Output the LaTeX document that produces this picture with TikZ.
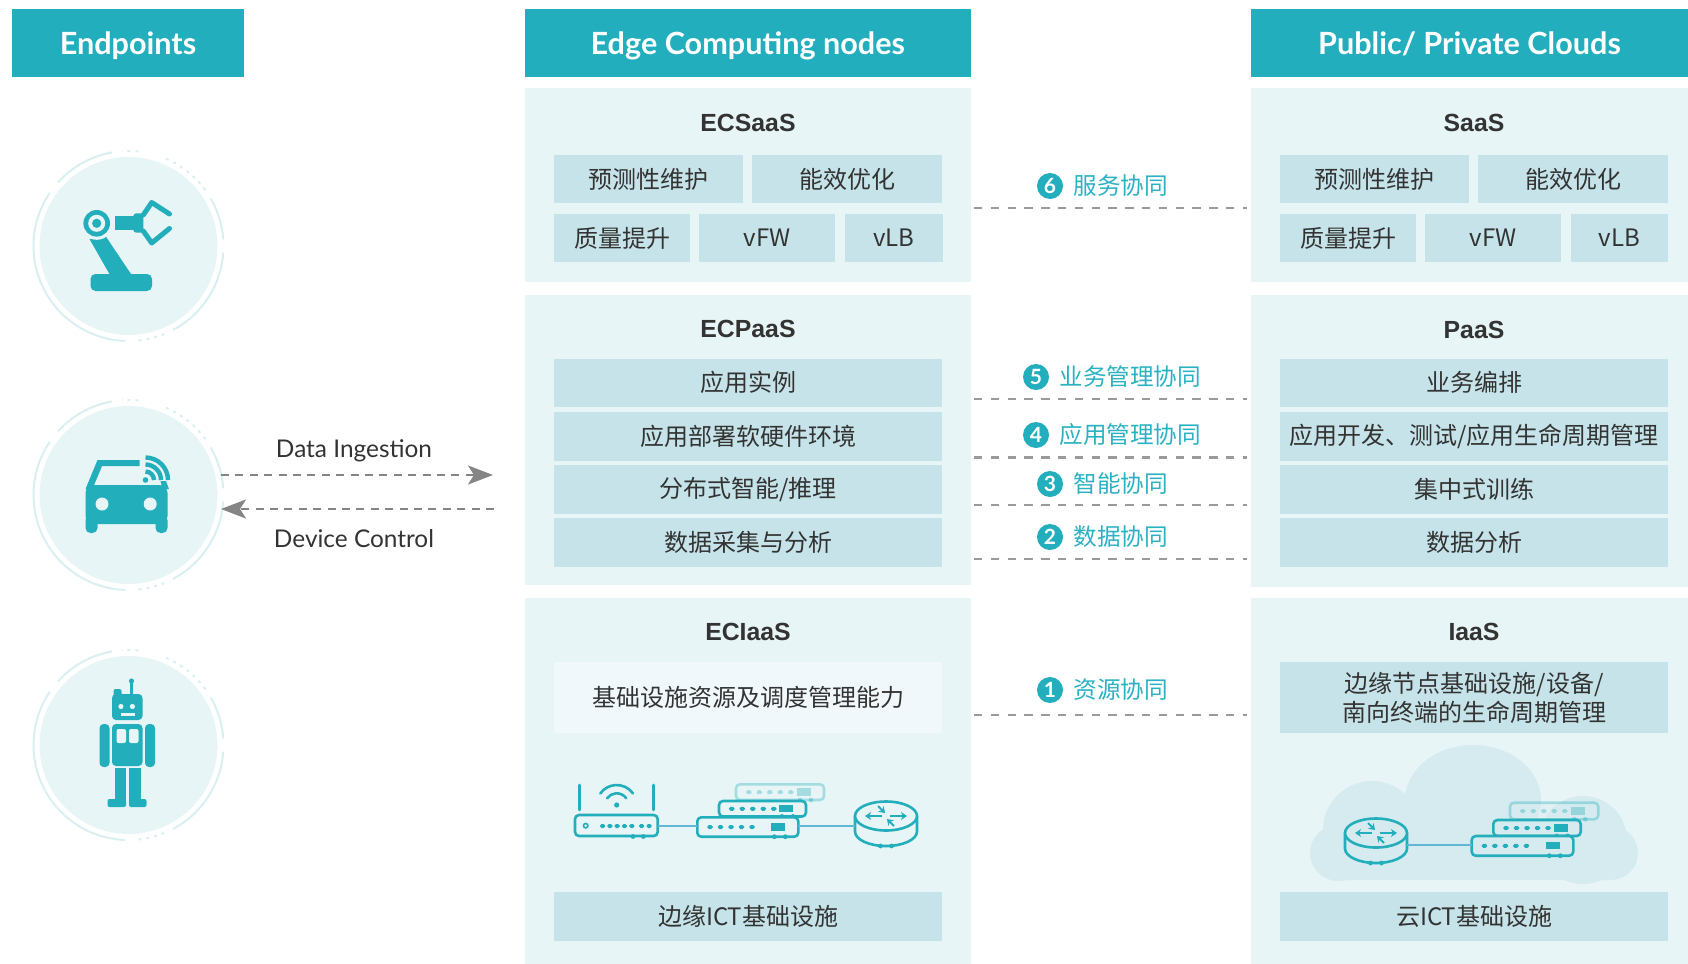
\documentclass[tikz,border=0pt]{standalone}
\usepackage{fontspec}
\setmainfont{Lato}
\newfontfamily\cjkfont{Noto Sans CJK SC}
\newfontfamily\titlefont{Liberation Sans}
\usetikzlibrary{arrows.meta}

\definecolor{tealc}{HTML}{22AEBD}
\definecolor{panelc}{HTML}{E8F5F6}
\definecolor{cellc}{HTML}{C5E3E8}
\definecolor{lightcell}{HTML}{F1F8FB}
\definecolor{txtc}{HTML}{333333}
\definecolor{labelc}{HTML}{2AB1C2}
\definecolor{dashc}{HTML}{9A9A9A}
\definecolor{arrowc}{HTML}{858585}
\definecolor{iconc}{HTML}{23AEBC}
\definecolor{circbg}{HTML}{E7F5F7}
\definecolor{ringc}{HTML}{D9EFF2}
\definecolor{cloudc}{HTML}{D6EBF0}
\definecolor{wirec}{HTML}{62B8D4}

% a rectangular node spanning two corners (corner units, y downwards)
\newcommand\boxat[7][]{\node[#1,minimum width={(#5-#3)*0.5pt},minimum height={(#6-#4)*0.5pt}]
  (#2) at ({(#3+#5)/2},{(#4+#6)/2}) {#7};}
\newcommand\cellbox[7][]{\boxat[cell,#1]{#2}{#3}{#4}{#5}{#6}{#7}}

% decorative broken ring around an endpoint disc
\newcommand\ringdeco[2]{%
  \begin{scope}[shift={(#1,#2)}]
    \draw[ring] (-100:95) arc[start angle=-100,end angle=-138,radius=95];
    \draw[ring] (-146:95) arc[start angle=-146,end angle=-268,radius=95];
    \draw[ring] (-298:95) arc[start angle=-298,end angle=-356,radius=95];
    \draw[ring] (-4:95) arc[start angle=-4,end angle=-30,radius=95];
    \draw[ring,dash pattern=on 1.5pt off 2.5pt] (-36:95) arc[start angle=-36,end angle=-68,radius=95];
    \draw[ring,dash pattern=on 1.5pt off 2.5pt] (-84:95) arc[start angle=-84,end angle=-94,radius=95];
    \draw[ring,dash pattern=on 1.5pt off 2.5pt] (-276:95) arc[start angle=-276,end angle=-292,radius=95];
  \end{scope}}

% network switch: corners and fill colour
\newcommand\swbox[5]{%
  \filldraw[devline,fill=#5,rounded corners=2pt] (#1,#2) rectangle (#3,#4);
  \foreach \k in {0,...,4}
    \fill[iconc,rounded corners=0.8pt] ({#1+10+\k*10.5},{(#2+#4)/2+2}) rectangle ++(5.5,-4);
  \fill[iconc] ({#3-27},{(#2+#4)/2-4}) rectangle ({#3-13},{(#2+#4)/2+3.5});
  \fill[iconc] ({#3-24},#4) circle (2.4);
  \fill[iconc] ({#3-13},#4) circle (2.4);}

% cylinder router: centre of top face and fill colour
\newcommand\cylrouter[3]{%
  \filldraw[devline,fill=#3] ({#1-31},#2) -- ({#1-31},{#2+15.5})
     arc[start angle=180,end angle=0,x radius=31,y radius=14.5] -- ({#1+31},#2);
  \filldraw[devline,fill=#3] (#1,#2) ellipse[x radius=31,y radius=14.5];
  \draw[iconc,line width=0.9pt,-{Stealth[length=3pt,width=4pt]}] ({#1-4},#2) -- ({#1-21},#2);
  \draw[iconc,line width=0.9pt,-{Stealth[length=3pt,width=4pt]}] ({#1+4},#2) -- ({#1+21},#2);
  \draw[iconc,line width=0.9pt,-{Stealth[length=3pt,width=4pt]}] ({#1-8},{#2-10}) -- ({#1-1},{#2-3});
  \draw[iconc,line width=0.9pt,-{Stealth[length=3pt,width=4pt]}] ({#1+8},{#2+10}) -- ({#1+1},{#2+3});
  \fill[iconc] ({#1-5.5},{#2+30}) circle (2.4);
  \fill[iconc] ({#1+5.5},{#2+30}) circle (2.4);}

\begin{document}
\begin{tikzpicture}[x=0.5pt,y=-0.5pt,
  hdr/.style={fill=tealc,text=white,inner sep=0pt,text height=11pt,text depth=0pt,
    font=\bfseries\fontsize{15.3}{18}\selectfont},
  panel/.style={fill=panelc,inner sep=0pt},
  cell/.style={fill=cellc,inner sep=0pt,text=txtc,align=center,
    font=\cjkfont\fontsize{12}{14.5}\selectfont},
  ptitle/.style={text=txtc,inner sep=0pt,font=\titlefont\bfseries\fontsize{12.4}{15}\selectfont},
  flow/.style={draw=dashc,line width=1.2pt,dash pattern=on 4.2pt off 4.2pt},
  numc/.style={circle,fill=tealc,text=white,inner sep=0pt,minimum size=13pt,
    font=\bfseries\fontsize{10.5}{12}\selectfont},
  coop/.style={text=labelc,anchor=west,inner sep=0pt,font=\cjkfont\fontsize{11.8}{14}\selectfont},
  io/.style={draw=arrowc,line width=1.15pt,dash pattern=on 4pt off 3.2pt,
    -{Stealth[length=12.5pt,width=9.5pt,inset=3pt]}},
  iolabel/.style={text=txtc,inner sep=0pt,font=\fontsize{12.2}{14}\selectfont},
  disc/.style={circle,fill=circbg,inner sep=0pt,minimum size=89pt},
  ring/.style={draw=ringc,line width=1pt},
  icon/.style={fill=iconc},
  devline/.style={draw=iconc,line width=1.3pt,line cap=round,line join=round},
  wire/.style={draw=wirec,line width=0.7pt}]

\useasboundingbox (0,0) rectangle (1688,964);

% ---------- column headers ----------
\boxat[hdr]{h-ep}{12}{9}{244}{77.3}{Endpoints}
\boxat[hdr]{h-edge}{525}{9}{970.7}{77.3}{Edge Computing nodes}
\boxat[hdr]{h-cloud}{1251}{9}{1688}{77.3}{Public/ Private Clouds}

% ---------- layer panels ----------
\boxat[panel]{ecsaas}{525}{88.3}{970.7}{282}{}
\boxat[panel]{ecpaas}{525}{295}{970.7}{585}{}
\boxat[panel]{eciaas}{525}{598}{970.7}{964}{}
\boxat[panel]{saas}{1251}{88.3}{1688}{282}{}
\boxat[panel]{paas}{1251}{295}{1688}{587}{}
\boxat[panel]{iaas}{1251}{598}{1688}{964}{}

\node[ptitle] (t-ecsaas) at (748,122.7) {ECSaaS};
\node[ptitle] (t-ecpaas) at (748,328.5) {ECPaaS};
\node[ptitle] (t-eciaas) at (748,632) {ECIaaS};
\node[ptitle] (t-saas) at (1474,122.7) {SaaS};
\node[ptitle] (t-paas) at (1474,329.5) {PaaS};
\node[ptitle] (t-iaas) at (1474,632) {IaaS};

% ---------- edge cells ----------
\cellbox{e-pm}{554.3}{155}{743.3}{203.3}{预测性维护}
\cellbox{e-ee}{752.3}{155}{941.7}{203.3}{能效优化}
\cellbox{e-qi}{554.3}{214}{690.3}{262.3}{质量提升}
\cellbox{e-fw}{699}{214}{835}{262.3}{vFW}
\cellbox{e-lb}{845}{214}{942.7}{262.3}{vLB}
\cellbox{e-inst}{554.3}{358.5}{942}{407}{应用实例}
\cellbox{e-env}{554.3}{412}{942}{461}{应用部署软硬件环境}
\cellbox{e-ai}{554.3}{465}{942}{513.5}{分布式智能/推理}
\cellbox{e-data}{554.3}{518}{942}{567}{数据采集与分析}
\cellbox[fill=lightcell]{e-res}{554.3}{662}{942}{733}{基础设施资源及调度管理能力}
\cellbox{e-ict}{554.3}{892}{942}{941}{边缘ICT基础设施}

% ---------- cloud cells ----------
\cellbox{c-pm}{1280.3}{155}{1469.3}{203.3}{预测性维护}
\cellbox{c-ee}{1478.3}{155}{1667.7}{203.3}{能效优化}
\cellbox{c-qi}{1280.3}{214}{1416.3}{262.3}{质量提升}
\cellbox{c-fw}{1425}{214}{1561}{262.3}{vFW}
\cellbox{c-lb}{1571}{214}{1668}{262.3}{vLB}
\cellbox{c-orch}{1280.3}{358.5}{1668}{407}{业务编排}
\cellbox{c-dev}{1280.3}{412}{1668}{461}{应用开发、测试/应用生命周期管理}
\cellbox{c-train}{1280.3}{465}{1668}{513.5}{集中式训练}
\cellbox{c-ana}{1280.3}{518}{1668}{567}{数据分析}
\cellbox{c-life}{1280.3}{662}{1668}{733}{边缘节点基础设施/设备/\\南向终端的生命周期管理}
\cellbox{c-ict}{1280.3}{892}{1668}{941}{云ICT基础设施}

% ---------- collaboration links ----------
\foreach \nm/\yy in {6/208,5/399,4/457.5,3/505,2/559,1/715}{
  \coordinate (f\nm a) at (974,\yy);
  \coordinate (f\nm b) at (1247,\yy);
  \draw[flow] (f\nm a) -- (f\nm b);
}
\node[numc] (n6) at (1050,186) {6};  \node[coop] (c6) at (1073,186) {服务协同};
\node[numc] (n5) at (1036,377) {5};  \node[coop] (c5) at (1059,377) {业务管理协同};
\node[numc] (n4) at (1036,435) {4};  \node[coop] (c4) at (1059,435) {应用管理协同};
\node[numc] (n3) at (1050,484) {3};  \node[coop] (c3) at (1073,484) {智能协同};
\node[numc] (n2) at (1050,537) {2};  \node[coop] (c2) at (1073,537) {数据协同};
\node[numc] (n1) at (1050,690) {1};  \node[coop] (c1) at (1073,690) {资源协同};

% ---------- endpoints ----------
\ringdeco{128.5}{246}
\ringdeco{128.5}{495}
\ringdeco{128.5}{745}
\node[disc] (ep-arm) at (128.5,246) {};
\node[disc] (ep-car) at (128.5,495) {};
\node[disc] (ep-bot) at (128.5,745) {};

% robot arm
\begin{scope}[shift={(ep-arm.center)}]
  \fill[icon,rounded corners=2.5pt] (-38,28) rectangle (23.5,45);
  \fill[icon] (-18.5,29) -- (3.2,29) -- (-23,-10) -- (-39,-7) -- cycle;
  \fill[circbg] (-31.8,-22.7) circle (16.5);
  \fill[icon] (-31.8,-22.7) circle (13.3);
  \fill[circbg] (-31.8,-22.7) circle (8.5);
  \fill[icon] (-31.8,-22.7) circle (4.6);
  \fill[icon] (-13.5,-30) rectangle (6.5,-16);
  \fill[icon,rounded corners=1.5pt] (4.8,-32.7) rectangle (14.8,-13.3);
  \draw[iconc,line width=2.5pt,line cap=round,line join=round]
    (14.8,-31) -- (23.2,-43.5) -- (41,-32);
  \draw[iconc,line width=2.5pt,line cap=round,line join=round]
    (14.8,-15) -- (23.2,-3) -- (41,-17.5);
\end{scope}

% connected car
\begin{scope}[shift={(ep-car.center)}]
  \fill[icon,rounded corners=4pt] (-43,-10) rectangle (39,29);
  \fill[icon,rounded corners=2.5pt] (-43,20) rectangle (-31,38);
  \fill[icon,rounded corners=2.5pt] (27,20) rectangle (39,38);
  \fill[icon] (-43,-6) -- (-31,-35) -- (11,-35) -- (11,-29) -- (-26.5,-29) -- (-36,-6) -- cycle;
  \fill[icon] (32,-14) -- (37.5,-14) -- (40.5,-6) -- (34,-6) -- cycle;
  \fill[circbg] (-26.5,9) circle (6.5);
  \fill[circbg] (21.7,9) circle (6.5);
  \fill[icon] (17,-15) circle (2.8);
  \draw[iconc,line width=2.2pt] (25.5,-15) arc[start angle=0,end angle=-90,radius=8.5];
  \draw[iconc,line width=2.2pt] (32.5,-15) arc[start angle=0,end angle=-90,radius=15.5];
  \draw[iconc,line width=2.2pt] (39.5,-15) arc[start angle=0,end angle=-90,radius=22.5];
\end{scope}

% humanoid robot
\begin{scope}[shift={(ep-bot.center)}]
  \draw[iconc,line width=1.2pt] (3,-62) -- (3,-50);
  \fill[icon] (3,-64) circle (2.6);
  \fill[icon,rounded corners=1pt] (-15,-56) rectangle (-7,-48);
  \fill[icon,rounded corners=2pt] (-16.5,-51) rectangle (14,-25);
  \fill[circbg] (-7.6,-38.5) circle (2.6);
  \fill[circbg] (3.9,-38.5) circle (2.6);
  \fill[circbg] (-8,-32) rectangle (6,-29.5);
  \fill[icon,rounded corners=2pt] (-16.5,-21) rectangle (14,21);
  \fill[circbg,rounded corners=1pt] (-12,-16) rectangle (-2.5,-2);
  \fill[circbg,rounded corners=1pt] (0.5,-16) rectangle (10,-2);
  \fill[icon,rounded corners=2pt] (-29,-21) rectangle (-19,22);
  \fill[icon,rounded corners=2pt] (16.5,-21) rectangle (26.5,22);
  \fill[icon] (-14,23) rectangle (-2.5,57);
  \fill[icon] (0.5,23) rectangle (12,57);
  \fill[icon,rounded corners=1pt] (-21,54) rectangle (-2.5,62);
  \fill[icon,rounded corners=1pt] (0.5,54) rectangle (18,62);
\end{scope}

% data in / control out
\coordinate (di-s) at (221,475);
\coordinate (di-e) at (493,475);
\coordinate (dc-s) at (494,509);
\coordinate (dc-e) at (221,509);
\draw[io] (di-s) -- (di-e);
\draw[io] (dc-s) -- (dc-e);
\node[iolabel] (l-di) at (354,451) {Data Ingestion};
\node[iolabel] (l-dc) at (354,539) {Device Control};

% ---------- edge ICT devices ----------
% wifi access point
\filldraw[devline,fill=panelc,rounded corners=2pt] (575,815) rectangle (657.7,836);
\draw[devline] (579.3,785) -- (579.3,810);
\draw[devline] (653.7,785) -- (653.7,810);
\fill[iconc] (616.7,805) circle (2.6);
\draw[devline] ([shift={(-35:11.7)}]616.7,805) arc[start angle=-35,end angle=-145,radius=11.7];
\draw[devline] ([shift={(-35:20)}]616.7,805) arc[start angle=-35,end angle=-145,radius=20];
\draw[iconc,line width=0.8pt] (585.7,825.7) circle (2.2);
\foreach \px in {600,607.3,614.6,621.9,629.2,639,646.5}
  \fill[iconc,rounded corners=0.8pt] (\px,828) rectangle ++(5.2,-4);
\fill[iconc] (633,836.5) circle (2.4);
\fill[iconc] (643.3,836.5) circle (2.4);
% switch stack
\begin{scope}[opacity=0.35]
  \swbox{736}{784.3}{824}{800}{panelc}
\end{scope}
\swbox{719}{801}{806}{816.5}{panelc}
\swbox{697.3}{817.3}{798.3}{836.7}{panelc}
% router
\cylrouter{886}{816}{panelc}
\coordinate (ap-r) at (657.7,826);
\coordinate (sw-l) at (697.3,826);
\coordinate (sw-r) at (798.3,826);
\coordinate (rt-l) at (855,826);
\draw[wire] (ap-r) -- (sw-l);
\draw[wire] (sw-r) -- (rt-l);

% ---------- cloud ICT devices ----------
\fill[cloudc] (1473,800) ellipse[x radius=68,y radius=55];
\fill[cloudc] (1372,830) circle (49);
\fill[cloudc] (1583,840) circle (44);
\fill[cloudc] (1338,853) circle (28);
\fill[cloudc] (1611,853) circle (27);
\fill[cloudc,rounded corners=10pt] (1320,835) rectangle (1628,880);
\cylrouter{1376}{833}{cloudc}
\begin{scope}[opacity=0.35]
  \swbox{1510}{802.7}{1598.3}{819.3}{cloudc}
\end{scope}
\swbox{1493.3}{820}{1580.7}{836}{cloudc}
\swbox{1471.7}{836}{1573.3}{855.7}{cloudc}
\coordinate (crt-r) at (1407,845);
\coordinate (csw-l) at (1471.7,845);
\draw[wire] (crt-r) -- (csw-l);

\end{tikzpicture}
\end{document}
